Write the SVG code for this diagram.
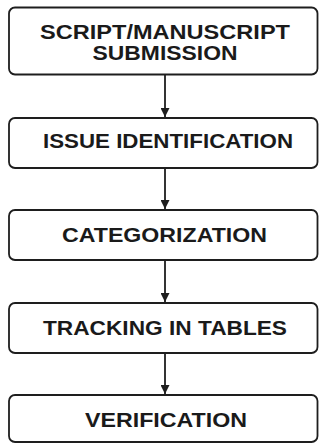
<svg xmlns="http://www.w3.org/2000/svg" width="320" height="444" viewBox="0 0 320 444">
<style>
.box{fill:#fff;stroke:#1e1e1e;stroke-width:1.8}
.t{font-family:"Liberation Sans",Arial,sans-serif;font-weight:bold;font-size:19.5px;fill:#1a1a1a;text-anchor:middle}
.c{stroke:#1e1e1e;stroke-width:1.8;fill:none}
</style>
<defs>
<marker id="ah" viewBox="0 0 10 10" refX="10" refY="5" markerWidth="9" markerHeight="9" markerUnits="userSpaceOnUse" orient="auto">
<path d="M0,0 L10,5 L0,10 Z" fill="#1e1e1e"/>
</marker>
</defs>
<rect width="320" height="444" fill="#fff"/>
<g id="connectors">
<line class="c" x1="165" y1="74.5" x2="165" y2="117" marker-end="url(#ah)"/>
<line class="c" x1="165" y1="168" x2="165" y2="209" marker-end="url(#ah)"/>
<line class="c" x1="165" y1="260" x2="165" y2="302" marker-end="url(#ah)"/>
<line class="c" x1="165" y1="353" x2="165" y2="394" marker-end="url(#ah)"/>
</g>
<g id="n1">
<rect class="box" x="9" y="7.5" width="308.5" height="67" rx="6"/>
<text class="t" x="165" y="38.5" textLength="250" lengthAdjust="spacingAndGlyphs">SCRIPT/MANUSCRIPT</text>
<text class="t" x="165" y="59.5" textLength="145" lengthAdjust="spacingAndGlyphs">SUBMISSION</text>
</g>
<g id="n2">
<rect class="box" x="9" y="118" width="308.5" height="50" rx="6"/>
<text class="t" x="168" y="148" textLength="250" lengthAdjust="spacingAndGlyphs">ISSUE IDENTIFICATION</text>
</g>
<g id="n3">
<rect class="box" x="9" y="210" width="308.5" height="50" rx="6"/>
<text class="t" x="164.5" y="242" textLength="205" lengthAdjust="spacingAndGlyphs">CATEGORIZATION</text>
</g>
<g id="n4">
<rect class="box" x="9" y="303" width="308.5" height="50" rx="6"/>
<text class="t" x="165" y="335" textLength="244" lengthAdjust="spacingAndGlyphs">TRACKING IN TABLES</text>
</g>
<g id="n5">
<rect class="box" x="9" y="395" width="308.5" height="47" rx="6"/>
<text class="t" x="166" y="427" textLength="162" lengthAdjust="spacingAndGlyphs">VERIFICATION</text>
</g>
</svg>
